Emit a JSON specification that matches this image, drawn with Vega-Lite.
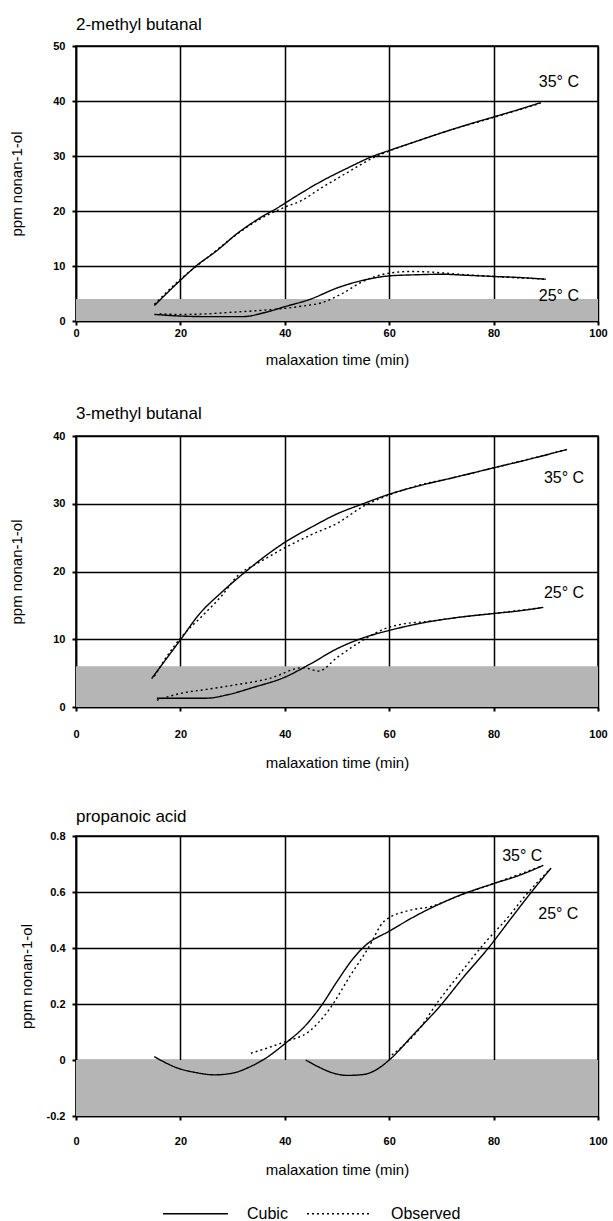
{
  "$schema": "https://vega.github.io/schema/vega-lite/v6.json",
  "background": "white",
  "padding": {"left": 9, "top": 15, "right": 4, "bottom": 0},
  "spacing": 36,
  "datasets": {
    "curves": [
      {"compound": "2-methyl butanal", "temp": "35", "type": "Cubic", "t": 15, "ppm": 2.8},
      {"compound": "2-methyl butanal", "temp": "35", "type": "Cubic", "t": 20, "ppm": 7.4},
      {"compound": "2-methyl butanal", "temp": "35", "type": "Cubic", "t": 23, "ppm": 10},
      {"compound": "2-methyl butanal", "temp": "35", "type": "Cubic", "t": 27, "ppm": 12.8},
      {"compound": "2-methyl butanal", "temp": "35", "type": "Cubic", "t": 31, "ppm": 16},
      {"compound": "2-methyl butanal", "temp": "35", "type": "Cubic", "t": 35, "ppm": 18.6},
      {"compound": "2-methyl butanal", "temp": "35", "type": "Cubic", "t": 39, "ppm": 20.8},
      {"compound": "2-methyl butanal", "temp": "35", "type": "Cubic", "t": 42, "ppm": 22.6},
      {"compound": "2-methyl butanal", "temp": "35", "type": "Cubic", "t": 47, "ppm": 25.4},
      {"compound": "2-methyl butanal", "temp": "35", "type": "Cubic", "t": 52, "ppm": 27.8},
      {"compound": "2-methyl butanal", "temp": "35", "type": "Cubic", "t": 57, "ppm": 30},
      {"compound": "2-methyl butanal", "temp": "35", "type": "Cubic", "t": 60, "ppm": 31},
      {"compound": "2-methyl butanal", "temp": "35", "type": "Cubic", "t": 65, "ppm": 32.6},
      {"compound": "2-methyl butanal", "temp": "35", "type": "Cubic", "t": 70, "ppm": 34.2},
      {"compound": "2-methyl butanal", "temp": "35", "type": "Cubic", "t": 75, "ppm": 35.7},
      {"compound": "2-methyl butanal", "temp": "35", "type": "Cubic", "t": 80, "ppm": 37.1},
      {"compound": "2-methyl butanal", "temp": "35", "type": "Cubic", "t": 85, "ppm": 38.5},
      {"compound": "2-methyl butanal", "temp": "35", "type": "Cubic", "t": 89, "ppm": 39.7},
      {"compound": "2-methyl butanal", "temp": "35", "type": "Observed", "t": 15, "ppm": 3.0},
      {"compound": "2-methyl butanal", "temp": "35", "type": "Observed", "t": 20, "ppm": 7.6},
      {"compound": "2-methyl butanal", "temp": "35", "type": "Observed", "t": 25, "ppm": 11.4},
      {"compound": "2-methyl butanal", "temp": "35", "type": "Observed", "t": 30, "ppm": 15.2},
      {"compound": "2-methyl butanal", "temp": "35", "type": "Observed", "t": 35, "ppm": 18.4},
      {"compound": "2-methyl butanal", "temp": "35", "type": "Observed", "t": 40, "ppm": 20.7},
      {"compound": "2-methyl butanal", "temp": "35", "type": "Observed", "t": 43, "ppm": 21.8},
      {"compound": "2-methyl butanal", "temp": "35", "type": "Observed", "t": 47, "ppm": 24.2},
      {"compound": "2-methyl butanal", "temp": "35", "type": "Observed", "t": 52, "ppm": 27},
      {"compound": "2-methyl butanal", "temp": "35", "type": "Observed", "t": 57, "ppm": 29.7},
      {"compound": "2-methyl butanal", "temp": "35", "type": "Observed", "t": 60, "ppm": 30.9},
      {"compound": "2-methyl butanal", "temp": "35", "type": "Observed", "t": 65, "ppm": 32.6},
      {"compound": "2-methyl butanal", "temp": "35", "type": "Observed", "t": 70, "ppm": 34.2},
      {"compound": "2-methyl butanal", "temp": "35", "type": "Observed", "t": 80, "ppm": 37},
      {"compound": "2-methyl butanal", "temp": "35", "type": "Observed", "t": 89, "ppm": 39.6},
      {"compound": "2-methyl butanal", "temp": "25", "type": "Cubic", "t": 15, "ppm": 1.2},
      {"compound": "2-methyl butanal", "temp": "25", "type": "Cubic", "t": 20, "ppm": 0.9},
      {"compound": "2-methyl butanal", "temp": "25", "type": "Cubic", "t": 25, "ppm": 0.8},
      {"compound": "2-methyl butanal", "temp": "25", "type": "Cubic", "t": 32, "ppm": 0.8},
      {"compound": "2-methyl butanal", "temp": "25", "type": "Cubic", "t": 36, "ppm": 1.5},
      {"compound": "2-methyl butanal", "temp": "25", "type": "Cubic", "t": 40, "ppm": 2.6},
      {"compound": "2-methyl butanal", "temp": "25", "type": "Cubic", "t": 45, "ppm": 4},
      {"compound": "2-methyl butanal", "temp": "25", "type": "Cubic", "t": 50, "ppm": 6},
      {"compound": "2-methyl butanal", "temp": "25", "type": "Cubic", "t": 55, "ppm": 7.4},
      {"compound": "2-methyl butanal", "temp": "25", "type": "Cubic", "t": 60, "ppm": 8.2},
      {"compound": "2-methyl butanal", "temp": "25", "type": "Cubic", "t": 65, "ppm": 8.4},
      {"compound": "2-methyl butanal", "temp": "25", "type": "Cubic", "t": 70, "ppm": 8.5},
      {"compound": "2-methyl butanal", "temp": "25", "type": "Cubic", "t": 75, "ppm": 8.3},
      {"compound": "2-methyl butanal", "temp": "25", "type": "Cubic", "t": 80, "ppm": 8.1},
      {"compound": "2-methyl butanal", "temp": "25", "type": "Cubic", "t": 85, "ppm": 7.9},
      {"compound": "2-methyl butanal", "temp": "25", "type": "Cubic", "t": 90, "ppm": 7.6},
      {"compound": "2-methyl butanal", "temp": "25", "type": "Observed", "t": 16, "ppm": 1.3},
      {"compound": "2-methyl butanal", "temp": "25", "type": "Observed", "t": 20, "ppm": 1.2},
      {"compound": "2-methyl butanal", "temp": "25", "type": "Observed", "t": 25, "ppm": 1.3},
      {"compound": "2-methyl butanal", "temp": "25", "type": "Observed", "t": 30, "ppm": 1.6},
      {"compound": "2-methyl butanal", "temp": "25", "type": "Observed", "t": 35, "ppm": 1.9},
      {"compound": "2-methyl butanal", "temp": "25", "type": "Observed", "t": 40, "ppm": 2.3},
      {"compound": "2-methyl butanal", "temp": "25", "type": "Observed", "t": 44, "ppm": 2.8},
      {"compound": "2-methyl butanal", "temp": "25", "type": "Observed", "t": 47, "ppm": 3.3},
      {"compound": "2-methyl butanal", "temp": "25", "type": "Observed", "t": 51, "ppm": 5.0},
      {"compound": "2-methyl butanal", "temp": "25", "type": "Observed", "t": 55, "ppm": 7.2},
      {"compound": "2-methyl butanal", "temp": "25", "type": "Observed", "t": 60, "ppm": 8.7},
      {"compound": "2-methyl butanal", "temp": "25", "type": "Observed", "t": 64, "ppm": 9.0},
      {"compound": "2-methyl butanal", "temp": "25", "type": "Observed", "t": 68, "ppm": 8.9},
      {"compound": "2-methyl butanal", "temp": "25", "type": "Observed", "t": 72, "ppm": 8.6},
      {"compound": "2-methyl butanal", "temp": "25", "type": "Observed", "t": 80, "ppm": 8.1},
      {"compound": "2-methyl butanal", "temp": "25", "type": "Observed", "t": 90, "ppm": 7.6},

      {"compound": "3-methyl butanal", "temp": "35", "type": "Cubic", "t": 14.5, "ppm": 4.2},
      {"compound": "3-methyl butanal", "temp": "35", "type": "Cubic", "t": 17, "ppm": 6.8},
      {"compound": "3-methyl butanal", "temp": "35", "type": "Cubic", "t": 20, "ppm": 9.9},
      {"compound": "3-methyl butanal", "temp": "35", "type": "Cubic", "t": 23.5, "ppm": 13.6},
      {"compound": "3-methyl butanal", "temp": "35", "type": "Cubic", "t": 28, "ppm": 17},
      {"compound": "3-methyl butanal", "temp": "35", "type": "Cubic", "t": 33, "ppm": 20.3},
      {"compound": "3-methyl butanal", "temp": "35", "type": "Cubic", "t": 37, "ppm": 22.7},
      {"compound": "3-methyl butanal", "temp": "35", "type": "Cubic", "t": 40, "ppm": 24.3},
      {"compound": "3-methyl butanal", "temp": "35", "type": "Cubic", "t": 45, "ppm": 26.5},
      {"compound": "3-methyl butanal", "temp": "35", "type": "Cubic", "t": 50, "ppm": 28.5},
      {"compound": "3-methyl butanal", "temp": "35", "type": "Cubic", "t": 55, "ppm": 30},
      {"compound": "3-methyl butanal", "temp": "35", "type": "Cubic", "t": 60, "ppm": 31.4},
      {"compound": "3-methyl butanal", "temp": "35", "type": "Cubic", "t": 66, "ppm": 32.7},
      {"compound": "3-methyl butanal", "temp": "35", "type": "Cubic", "t": 72, "ppm": 33.8},
      {"compound": "3-methyl butanal", "temp": "35", "type": "Cubic", "t": 80, "ppm": 35.3},
      {"compound": "3-methyl butanal", "temp": "35", "type": "Cubic", "t": 87, "ppm": 36.6},
      {"compound": "3-methyl butanal", "temp": "35", "type": "Cubic", "t": 94, "ppm": 38},
      {"compound": "3-methyl butanal", "temp": "35", "type": "Observed", "t": 15, "ppm": 4.5},
      {"compound": "3-methyl butanal", "temp": "35", "type": "Observed", "t": 17, "ppm": 7},
      {"compound": "3-methyl butanal", "temp": "35", "type": "Observed", "t": 20.5, "ppm": 10.6},
      {"compound": "3-methyl butanal", "temp": "35", "type": "Observed", "t": 24, "ppm": 13.3},
      {"compound": "3-methyl butanal", "temp": "35", "type": "Observed", "t": 28, "ppm": 16.5},
      {"compound": "3-methyl butanal", "temp": "35", "type": "Observed", "t": 31, "ppm": 19.4},
      {"compound": "3-methyl butanal", "temp": "35", "type": "Observed", "t": 35, "ppm": 21.3},
      {"compound": "3-methyl butanal", "temp": "35", "type": "Observed", "t": 40, "ppm": 23.5},
      {"compound": "3-methyl butanal", "temp": "35", "type": "Observed", "t": 45, "ppm": 25.4},
      {"compound": "3-methyl butanal", "temp": "35", "type": "Observed", "t": 50, "ppm": 27.1},
      {"compound": "3-methyl butanal", "temp": "35", "type": "Observed", "t": 55, "ppm": 29.6},
      {"compound": "3-methyl butanal", "temp": "35", "type": "Observed", "t": 60, "ppm": 31.3},
      {"compound": "3-methyl butanal", "temp": "35", "type": "Observed", "t": 66, "ppm": 32.8},
      {"compound": "3-methyl butanal", "temp": "35", "type": "Observed", "t": 72, "ppm": 33.8},
      {"compound": "3-methyl butanal", "temp": "35", "type": "Observed", "t": 80, "ppm": 35.3},
      {"compound": "3-methyl butanal", "temp": "35", "type": "Observed", "t": 94, "ppm": 38},
      {"compound": "3-methyl butanal", "temp": "25", "type": "Cubic", "t": 15.5, "ppm": 1.3},
      {"compound": "3-methyl butanal", "temp": "25", "type": "Cubic", "t": 20, "ppm": 1.3},
      {"compound": "3-methyl butanal", "temp": "25", "type": "Cubic", "t": 25, "ppm": 1.3},
      {"compound": "3-methyl butanal", "temp": "25", "type": "Cubic", "t": 29, "ppm": 1.8},
      {"compound": "3-methyl butanal", "temp": "25", "type": "Cubic", "t": 34, "ppm": 2.9},
      {"compound": "3-methyl butanal", "temp": "25", "type": "Cubic", "t": 40, "ppm": 4.4},
      {"compound": "3-methyl butanal", "temp": "25", "type": "Cubic", "t": 45, "ppm": 6.4},
      {"compound": "3-methyl butanal", "temp": "25", "type": "Cubic", "t": 50, "ppm": 8.6},
      {"compound": "3-methyl butanal", "temp": "25", "type": "Cubic", "t": 55, "ppm": 10.2},
      {"compound": "3-methyl butanal", "temp": "25", "type": "Cubic", "t": 60, "ppm": 11.3},
      {"compound": "3-methyl butanal", "temp": "25", "type": "Cubic", "t": 67, "ppm": 12.5},
      {"compound": "3-methyl butanal", "temp": "25", "type": "Cubic", "t": 74, "ppm": 13.3},
      {"compound": "3-methyl butanal", "temp": "25", "type": "Cubic", "t": 80, "ppm": 13.8},
      {"compound": "3-methyl butanal", "temp": "25", "type": "Cubic", "t": 85, "ppm": 14.2},
      {"compound": "3-methyl butanal", "temp": "25", "type": "Cubic", "t": 89.5, "ppm": 14.7},
      {"compound": "3-methyl butanal", "temp": "25", "type": "Observed", "t": 15.5, "ppm": 1.0},
      {"compound": "3-methyl butanal", "temp": "25", "type": "Observed", "t": 20, "ppm": 2.0},
      {"compound": "3-methyl butanal", "temp": "25", "type": "Observed", "t": 25, "ppm": 2.6},
      {"compound": "3-methyl butanal", "temp": "25", "type": "Observed", "t": 30, "ppm": 3.2},
      {"compound": "3-methyl butanal", "temp": "25", "type": "Observed", "t": 37, "ppm": 4.2},
      {"compound": "3-methyl butanal", "temp": "25", "type": "Observed", "t": 43.5, "ppm": 5.8},
      {"compound": "3-methyl butanal", "temp": "25", "type": "Observed", "t": 46.5, "ppm": 5.3},
      {"compound": "3-methyl butanal", "temp": "25", "type": "Observed", "t": 50, "ppm": 7.3},
      {"compound": "3-methyl butanal", "temp": "25", "type": "Observed", "t": 54, "ppm": 9.4},
      {"compound": "3-methyl butanal", "temp": "25", "type": "Observed", "t": 59, "ppm": 11.5},
      {"compound": "3-methyl butanal", "temp": "25", "type": "Observed", "t": 63, "ppm": 12.3},
      {"compound": "3-methyl butanal", "temp": "25", "type": "Observed", "t": 67, "ppm": 12.6},
      {"compound": "3-methyl butanal", "temp": "25", "type": "Observed", "t": 74, "ppm": 13.3},
      {"compound": "3-methyl butanal", "temp": "25", "type": "Observed", "t": 80, "ppm": 13.8},
      {"compound": "3-methyl butanal", "temp": "25", "type": "Observed", "t": 89.5, "ppm": 14.7},

      {"compound": "propanoic acid", "temp": "35", "type": "Cubic", "t": 15, "ppm": 0.012},
      {"compound": "propanoic acid", "temp": "35", "type": "Cubic", "t": 19.5, "ppm": -0.029},
      {"compound": "propanoic acid", "temp": "35", "type": "Cubic", "t": 23, "ppm": -0.045},
      {"compound": "propanoic acid", "temp": "35", "type": "Cubic", "t": 26.5, "ppm": -0.053},
      {"compound": "propanoic acid", "temp": "35", "type": "Cubic", "t": 30, "ppm": -0.047},
      {"compound": "propanoic acid", "temp": "35", "type": "Cubic", "t": 33, "ppm": -0.027},
      {"compound": "propanoic acid", "temp": "35", "type": "Cubic", "t": 36.3, "ppm": 0.006},
      {"compound": "propanoic acid", "temp": "35", "type": "Cubic", "t": 40, "ppm": 0.058},
      {"compound": "propanoic acid", "temp": "35", "type": "Cubic", "t": 44, "ppm": 0.124},
      {"compound": "propanoic acid", "temp": "35", "type": "Cubic", "t": 47, "ppm": 0.194},
      {"compound": "propanoic acid", "temp": "35", "type": "Cubic", "t": 50, "ppm": 0.28},
      {"compound": "propanoic acid", "temp": "35", "type": "Cubic", "t": 53, "ppm": 0.36},
      {"compound": "propanoic acid", "temp": "35", "type": "Cubic", "t": 55.5, "ppm": 0.41},
      {"compound": "propanoic acid", "temp": "35", "type": "Cubic", "t": 60, "ppm": 0.46},
      {"compound": "propanoic acid", "temp": "35", "type": "Cubic", "t": 66, "ppm": 0.524},
      {"compound": "propanoic acid", "temp": "35", "type": "Cubic", "t": 73.5, "ppm": 0.588},
      {"compound": "propanoic acid", "temp": "35", "type": "Cubic", "t": 80, "ppm": 0.63},
      {"compound": "propanoic acid", "temp": "35", "type": "Cubic", "t": 85, "ppm": 0.66},
      {"compound": "propanoic acid", "temp": "35", "type": "Cubic", "t": 89.5, "ppm": 0.695},
      {"compound": "propanoic acid", "temp": "35", "type": "Observed", "t": 33.5, "ppm": 0.024},
      {"compound": "propanoic acid", "temp": "35", "type": "Observed", "t": 37, "ppm": 0.045},
      {"compound": "propanoic acid", "temp": "35", "type": "Observed", "t": 40, "ppm": 0.065},
      {"compound": "propanoic acid", "temp": "35", "type": "Observed", "t": 44.5, "ppm": 0.1},
      {"compound": "propanoic acid", "temp": "35", "type": "Observed", "t": 48.5, "ppm": 0.18},
      {"compound": "propanoic acid", "temp": "35", "type": "Observed", "t": 52.5, "ppm": 0.3},
      {"compound": "propanoic acid", "temp": "35", "type": "Observed", "t": 56, "ppm": 0.4},
      {"compound": "propanoic acid", "temp": "35", "type": "Observed", "t": 59, "ppm": 0.495},
      {"compound": "propanoic acid", "temp": "35", "type": "Observed", "t": 64, "ppm": 0.535},
      {"compound": "propanoic acid", "temp": "35", "type": "Observed", "t": 68, "ppm": 0.548},
      {"compound": "propanoic acid", "temp": "35", "type": "Observed", "t": 73.5, "ppm": 0.588},
      {"compound": "propanoic acid", "temp": "35", "type": "Observed", "t": 80, "ppm": 0.63},
      {"compound": "propanoic acid", "temp": "35", "type": "Observed", "t": 89.5, "ppm": 0.695},
      {"compound": "propanoic acid", "temp": "25", "type": "Cubic", "t": 44, "ppm": 0.0},
      {"compound": "propanoic acid", "temp": "25", "type": "Cubic", "t": 46.5, "ppm": -0.025},
      {"compound": "propanoic acid", "temp": "25", "type": "Cubic", "t": 49, "ppm": -0.045},
      {"compound": "propanoic acid", "temp": "25", "type": "Cubic", "t": 52, "ppm": -0.055},
      {"compound": "propanoic acid", "temp": "25", "type": "Cubic", "t": 55, "ppm": -0.052},
      {"compound": "propanoic acid", "temp": "25", "type": "Cubic", "t": 57.5, "ppm": -0.035},
      {"compound": "propanoic acid", "temp": "25", "type": "Cubic", "t": 60, "ppm": 0.0},
      {"compound": "propanoic acid", "temp": "25", "type": "Cubic", "t": 64.5, "ppm": 0.088},
      {"compound": "propanoic acid", "temp": "25", "type": "Cubic", "t": 69.8, "ppm": 0.194},
      {"compound": "propanoic acid", "temp": "25", "type": "Cubic", "t": 74.4, "ppm": 0.3},
      {"compound": "propanoic acid", "temp": "25", "type": "Cubic", "t": 79, "ppm": 0.4},
      {"compound": "propanoic acid", "temp": "25", "type": "Cubic", "t": 83.6, "ppm": 0.512},
      {"compound": "propanoic acid", "temp": "25", "type": "Cubic", "t": 87, "ppm": 0.594},
      {"compound": "propanoic acid", "temp": "25", "type": "Cubic", "t": 91, "ppm": 0.685},
      {"compound": "propanoic acid", "temp": "25", "type": "Observed", "t": 60.5, "ppm": 0.018},
      {"compound": "propanoic acid", "temp": "25", "type": "Observed", "t": 65.3, "ppm": 0.1},
      {"compound": "propanoic acid", "temp": "25", "type": "Observed", "t": 69.5, "ppm": 0.212},
      {"compound": "propanoic acid", "temp": "25", "type": "Observed", "t": 73.7, "ppm": 0.312},
      {"compound": "propanoic acid", "temp": "25", "type": "Observed", "t": 78.3, "ppm": 0.418},
      {"compound": "propanoic acid", "temp": "25", "type": "Observed", "t": 83, "ppm": 0.515},
      {"compound": "propanoic acid", "temp": "25", "type": "Observed", "t": 86, "ppm": 0.585},
      {"compound": "propanoic acid", "temp": "25", "type": "Observed", "t": 91, "ppm": 0.685}
    ],
    "bands": [
      {"compound": "2-methyl butanal", "lo": 0, "hi": 4},
      {"compound": "3-methyl butanal", "lo": 0, "hi": 6},
      {"compound": "propanoic acid", "lo": -0.2, "hi": 0}
    ],
    "labels": [
      {"compound": "2-methyl butanal", "label": "35° C", "t": 92.5, "ppm": 43.5},
      {"compound": "2-methyl butanal", "label": "25° C", "t": 92.5, "ppm": 4.6},
      {"compound": "3-methyl butanal", "label": "35° C", "t": 93.5, "ppm": 33.8},
      {"compound": "3-methyl butanal", "label": "25° C", "t": 93.5, "ppm": 16.8},
      {"compound": "propanoic acid", "label": "35° C", "t": 85.5, "ppm": 0.73},
      {"compound": "propanoic acid", "label": "25° C", "t": 92.4, "ppm": 0.52}
    ]
  },
  "resolve": {"scale": {"x": "independent", "y": "independent", "strokeDash": "shared"}, "legend": {"strokeDash": "shared"}},
  "vconcat": [
    {
      "title": {"text": "2-methyl butanal", "offset": 6},
      "width": 522,
      "height": 275,
      "layer": [
        {
          "data": {"name": "bands"},
          "transform": [{"filter": "datum.compound == '2-methyl butanal'"}],
          "mark": {"type": "rect", "fill": "#b5b5b5"},
          "encoding": {
            "x": {"datum": 0, "type": "quantitative", "title": "malaxation time (min)"},
            "x2": {"datum": 100},
            "y": {"field": "lo", "type": "quantitative", "title": "ppm nonan-1-ol"},
            "y2": {"field": "hi"}
          }
        },
        {
          "data": {"name": "curves"},
          "transform": [{"filter": "datum.compound == '2-methyl butanal'"}],
          "mark": {"type": "line", "color": "black", "strokeWidth": 1.4, "interpolate": "monotone"},
          "encoding": {
            "x": {"field": "t", "type": "quantitative", "title": "malaxation time (min)",
                  "scale": {"domain": [0, 100], "nice": false, "zero": false},
                  "axis": {"values": [0, 20, 40, 60, 80, 100], "labelPadding": 2, "titlePadding": 14}},
            "y": {"field": "ppm", "type": "quantitative", "title": "ppm nonan-1-ol",
                  "scale": {"domain": [0, 50], "nice": false},
                  "axis": {"values": [0, 10, 20, 30, 40, 50], "titlePadding": 28}},
            "detail": {"field": "temp"},
            "strokeDash": {"field": "type", "type": "nominal", "title": null,
                           "scale": {"domain": ["Cubic", "Observed"], "range": [[1, 0], [2, 3]]},
                           "legend": {"orient": "none", "legendX": 86, "legendY": 1134, "direction": "horizontal"}}
          }
        },
        {
          "data": {"name": "labels"},
          "transform": [{"filter": "datum.compound == '2-methyl butanal'"}],
          "mark": {"type": "text", "fontSize": 16, "font": "Liberation Sans", "color": "black", "align": "center", "baseline": "middle"},
          "encoding": {
            "x": {"field": "t", "type": "quantitative", "title": "malaxation time (min)"},
            "y": {"field": "ppm", "type": "quantitative", "title": "ppm nonan-1-ol"},
            "text": {"field": "label"}
          }
        }
      ]
    },
    {
      "title": {"text": "3-methyl butanal", "offset": 7},
      "width": 522,
      "height": 271,
      "layer": [
        {
          "data": {"name": "bands"},
          "transform": [{"filter": "datum.compound == '3-methyl butanal'"}],
          "mark": {"type": "rect", "fill": "#b5b5b5"},
          "encoding": {
            "x": {"datum": 0, "type": "quantitative", "title": "malaxation time (min)"},
            "x2": {"datum": 100},
            "y": {"field": "lo", "type": "quantitative", "title": "ppm nonan-1-ol"},
            "y2": {"field": "hi"}
          }
        },
        {
          "data": {"name": "curves"},
          "transform": [{"filter": "datum.compound == '3-methyl butanal'"}],
          "mark": {"type": "line", "color": "black", "strokeWidth": 1.4, "interpolate": "monotone"},
          "encoding": {
            "x": {"field": "t", "type": "quantitative", "title": "malaxation time (min)",
                  "scale": {"domain": [0, 100], "nice": false, "zero": false},
                  "axis": {"values": [0, 20, 40, 60, 80, 100], "labelPadding": 17, "titlePadding": 16}},
            "y": {"field": "ppm", "type": "quantitative", "title": "ppm nonan-1-ol",
                  "scale": {"domain": [0, 40], "nice": false},
                  "axis": {"values": [0, 10, 20, 30, 40], "titlePadding": 28}},
            "detail": {"field": "temp"},
            "strokeDash": {"field": "type", "type": "nominal", "title": null,
                           "scale": {"domain": ["Cubic", "Observed"], "range": [[1, 0], [2, 3]]}}
          }
        },
        {
          "data": {"name": "labels"},
          "transform": [{"filter": "datum.compound == '3-methyl butanal'"}],
          "mark": {"type": "text", "fontSize": 16, "font": "Liberation Sans", "color": "black", "align": "center", "baseline": "middle"},
          "encoding": {
            "x": {"field": "t", "type": "quantitative", "title": "malaxation time (min)"},
            "y": {"field": "ppm", "type": "quantitative", "title": "ppm nonan-1-ol"},
            "text": {"field": "label"}
          }
        }
      ]
    },
    {
      "title": {"text": "propanoic acid", "offset": 4},
      "width": 522,
      "height": 280,
      "layer": [
        {
          "data": {"name": "bands"},
          "transform": [{"filter": "datum.compound == 'propanoic acid'"}],
          "mark": {"type": "rect", "fill": "#b5b5b5"},
          "encoding": {
            "x": {"datum": 0, "type": "quantitative", "title": "malaxation time (min)"},
            "x2": {"datum": 100},
            "y": {"field": "lo", "type": "quantitative", "title": "ppm nonan-1-ol"},
            "y2": {"field": "hi"}
          }
        },
        {
          "data": {"name": "curves"},
          "transform": [{"filter": "datum.compound == 'propanoic acid'"}],
          "mark": {"type": "line", "color": "black", "strokeWidth": 1.4, "interpolate": "monotone"},
          "encoding": {
            "x": {"field": "t", "type": "quantitative", "title": "malaxation time (min)",
                  "scale": {"domain": [0, 100], "nice": false, "zero": false},
                  "axis": {"values": [0, 20, 40, 60, 80, 100], "labelPadding": 15, "titlePadding": 16}},
            "y": {"field": "ppm", "type": "quantitative", "title": "ppm nonan-1-ol",
                  "scale": {"domain": [-0.2, 0.8], "nice": false, "zero": false},
                  "axis": {"values": [-0.2, 0, 0.2, 0.4, 0.6, 0.8], "titlePadding": 12,
                           "labelExpr": "datum.value < 0 ? '-' + format(-datum.value, '~g') : format(datum.value, '~g')"}},
            "detail": {"field": "temp"},
            "strokeDash": {"field": "type", "type": "nominal", "title": null,
                           "scale": {"domain": ["Cubic", "Observed"], "range": [[1, 0], [2, 3]]}}
          }
        },
        {
          "data": {"name": "labels"},
          "transform": [{"filter": "datum.compound == 'propanoic acid'"}],
          "mark": {"type": "text", "fontSize": 16, "font": "Liberation Sans", "color": "black", "align": "center", "baseline": "middle"},
          "encoding": {
            "x": {"field": "t", "type": "quantitative", "title": "malaxation time (min)"},
            "y": {"field": "ppm", "type": "quantitative", "title": "ppm nonan-1-ol"},
            "text": {"field": "label"}
          }
        }
      ]
    }
  ],
  "config": {
    "font": "Liberation Sans",
    "view": {"stroke": "black", "strokeWidth": 1.5},
    "axis": {
      "domainColor": "black", "domainWidth": 1.5,
      "tickColor": "black", "tickWidth": 2, "tickSize": 4,
      "grid": true, "gridColor": "black", "gridWidth": 1.5, "gridOpacity": 1,
      "labelFont": "Liberation Sans", "labelFontWeight": "bold", "labelFontSize": 11, "labelColor": "black",
      "labelFlush": false, "labelOverlap": false,
      "titleFont": "Liberation Sans", "titleFontWeight": "normal", "titleFontSize": 15, "titleColor": "black",
      "zindex": 1
    },
    "axisY": {"labelPadding": 7},
    "title": {"font": "Liberation Sans", "fontSize": 17, "fontWeight": "normal", "anchor": "start", "frame": "group", "color": "black"},
    "legend": {
      "padding": 0,
      "symbolType": "stroke", "symbolSize": 4225, "symbolStrokeWidth": 1.4, "symbolStrokeColor": "black",
      "labelFont": "Liberation Sans", "labelFontSize": 16, "labelColor": "black", "labelOffset": 18,
      "columnPadding": 16
    }
  }
}
